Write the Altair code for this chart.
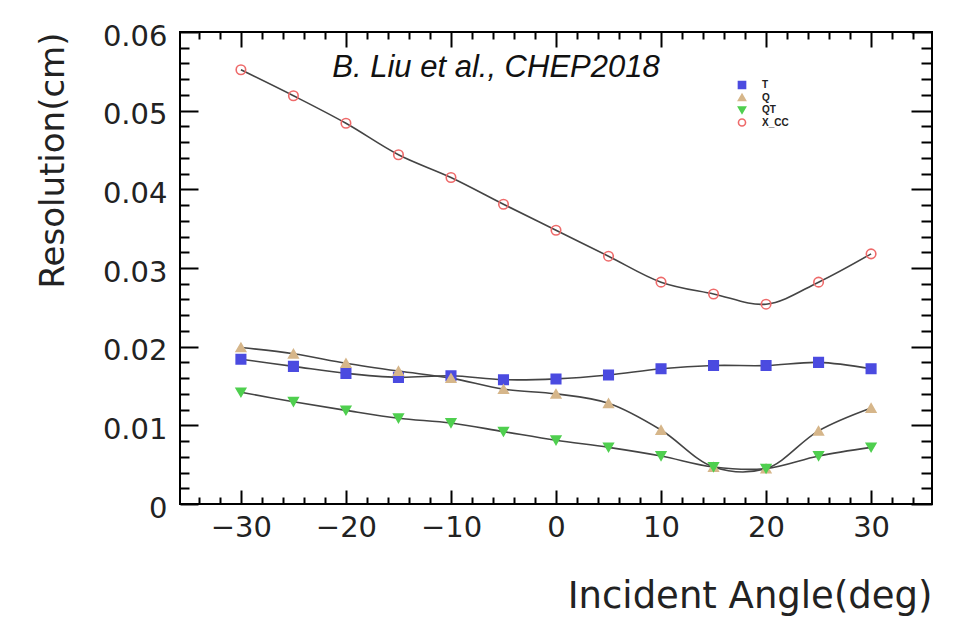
import altair as alt
import pandas as pd

angles = [-30, -25, -20, -15, -10, -5, 0, 5, 10, 15, 20, 25, 30]
res_T = [0.0184, 0.0175, 0.0166, 0.0161, 0.0163, 0.0158, 0.0159, 0.0164, 0.0172, 0.0176, 0.0176, 0.0180, 0.0172]
res_Q = [0.0199, 0.0191, 0.0179, 0.0169, 0.0160, 0.0146, 0.0140, 0.0128, 0.0094, 0.0047, 0.0045, 0.0093, 0.0122]
res_QT = [0.0142, 0.0130, 0.0119, 0.0109, 0.0103, 0.0092, 0.0081, 0.0072, 0.0061, 0.0047, 0.0045, 0.0061, 0.0072]
res_XCC = [0.0552, 0.0519, 0.0484, 0.0444, 0.0415, 0.0381, 0.0348, 0.0315, 0.0282, 0.0267, 0.0254, 0.0282, 0.0318]

series_names = ["T", "Q", "QT", "X_CC"]
series_vals = [res_T, res_Q, res_QT, res_XCC]
series_colors = ["#4b4be0", "#d6b68a", "#4fcf4f", "#ee6a6a"]
series_fill = ["#4b4be0", "#d6b68a", "#4fcf4f", "transparent"]
series_shapes = ["square", "triangle-up", "triangle-down", "circle"]

x_major = [-30, -20, -10, 0, 10, 20, 30]
y_major = [0, 0.01, 0.02, 0.03, 0.04, 0.05, 0.06]
x_minor = [v for v in range(-34, 36, 2) if v % 10 != 0]
y_minor = [round(i * 0.002, 4) for i in range(1, 30) if i % 5 != 0]

rows = []
for name, vals in zip(series_names, series_vals):
    for a, v in zip(angles, vals):
        rows.append({"angle": a, "res": v, "series": name})
df = pd.DataFrame(rows)

XDOM = [-35.8, 35.8]
YDOM = [0, 0.06]
FONT = "DejaVu Sans"

def xs(axis):
    return alt.X("angle:Q", scale=alt.Scale(domain=XDOM, nice=False, zero=False), axis=axis)

def ys(axis):
    return alt.Y("res:Q", scale=alt.Scale(domain=YDOM, nice=False, zero=False), axis=axis)

common = dict(domain=False, grid=False, tickColor="black", tickWidth=2)

ax_x_major = alt.Axis(orient="bottom", values=x_major, tickSize=14, offset=-14,
                      labelFont=FONT, labelFontSize=29, labelColor="#222", labelPadding=9,
                      labelFlush=False, title="Incident Angle(deg)", titleFont=FONT,
                      titleFontSize=37, titleFontWeight="normal", titleColor="#222",
                      titleAnchor="end", titlePadding=36, **common)
ax_x_minor = alt.Axis(orient="bottom", values=x_minor, tickSize=7, offset=-7, labels=False,
                      title=None, **common)
ax_y_major = alt.Axis(orient="left", values=y_major, tickSize=18, offset=-18,
                      labelFont=FONT, labelFontSize=29, labelColor="#222", labelPadding=13,
                      labelFlush=False, labelOffset=4,
                      labelExpr="datum.value == 0 ? '0' : format(datum.value, '.2f')",
                      title="Resolution(cm)", titleFont=FONT, titleFontSize=34,
                      titleFontWeight="normal", titleColor="#222", titleAnchor="end",
                      titlePadding=32, **common)
ax_y_minor = alt.Axis(orient="left", values=y_minor, tickSize=9, offset=-9, labels=False,
                      title=None, **common)
ax_x_top_major = alt.Axis(orient="top", values=x_major, tickSize=15, offset=-15, labels=False,
                          title=None, **common)
ax_x_top_minor = alt.Axis(orient="top", values=x_minor, tickSize=7, offset=-7, labels=False,
                          title=None, **common)
ax_y_right_major = alt.Axis(orient="right", values=y_major, tickSize=21, offset=-21, labels=False,
                            title=None, **common)
ax_y_right_minor = alt.Axis(orient="right", values=y_minor, tickSize=11, offset=-11, labels=False,
                            title=None, **common)

base = alt.Chart(df)

lines = base.mark_line(color="#444444", strokeWidth=1.6, interpolate="catmull-rom").encode(
    x=xs(ax_x_major), y=ys(ax_y_major), detail="series:N"
)

points = base.mark_point(size=90, strokeWidth=1.6, opacity=1).encode(
    x=xs(ax_x_minor), y=ys(ax_y_minor),
    shape=alt.Shape("series:N", scale=alt.Scale(domain=series_names, range=series_shapes),
                    legend=alt.Legend(title=None, orient="none", legendX=557, legendY=48,
                                      labelFont="Liberation Sans", labelFontSize=10,
                                      labelFontWeight="bold", labelColor="#222",
                                      symbolSize=50, rowPadding=-1.5, labelOffset=15,
                                      symbolStrokeWidth=1.6)),
    fill=alt.Fill("series:N", scale=alt.Scale(domain=series_names, range=series_fill), legend=None),
    stroke=alt.Stroke("series:N", scale=alt.Scale(domain=series_names, range=series_colors), legend=None),
)

ghost1 = base.mark_point(opacity=0).encode(x=xs(ax_x_top_major), y=ys(ax_y_right_major))
ghost2 = base.mark_point(opacity=0).encode(x=xs(ax_x_top_minor), y=ys(ax_y_right_minor))

note = alt.Chart(pd.DataFrame({"t": ["B. Liu et al., CHEP2018"]})).mark_text(
    font="Liberation Sans", fontSize=31, fontStyle="italic", color="#111",
    align="center", baseline="alphabetic"
).encode(text="t:N", x=alt.value(316), y=alt.value(45))

chart = alt.layer(lines, points, ghost1, ghost2, note).resolve_scale(
    x="independent", y="independent"
).properties(
    width=752, height=472,
    autosize=alt.AutoSizeParams(type="none"),
    padding={"left": 172, "top": 24, "right": 10, "bottom": 112},
    background="white",
).configure_view(stroke="black", strokeWidth=2)

chart.save("out.html", embed_options={"renderer": "svg", "actions": False})
